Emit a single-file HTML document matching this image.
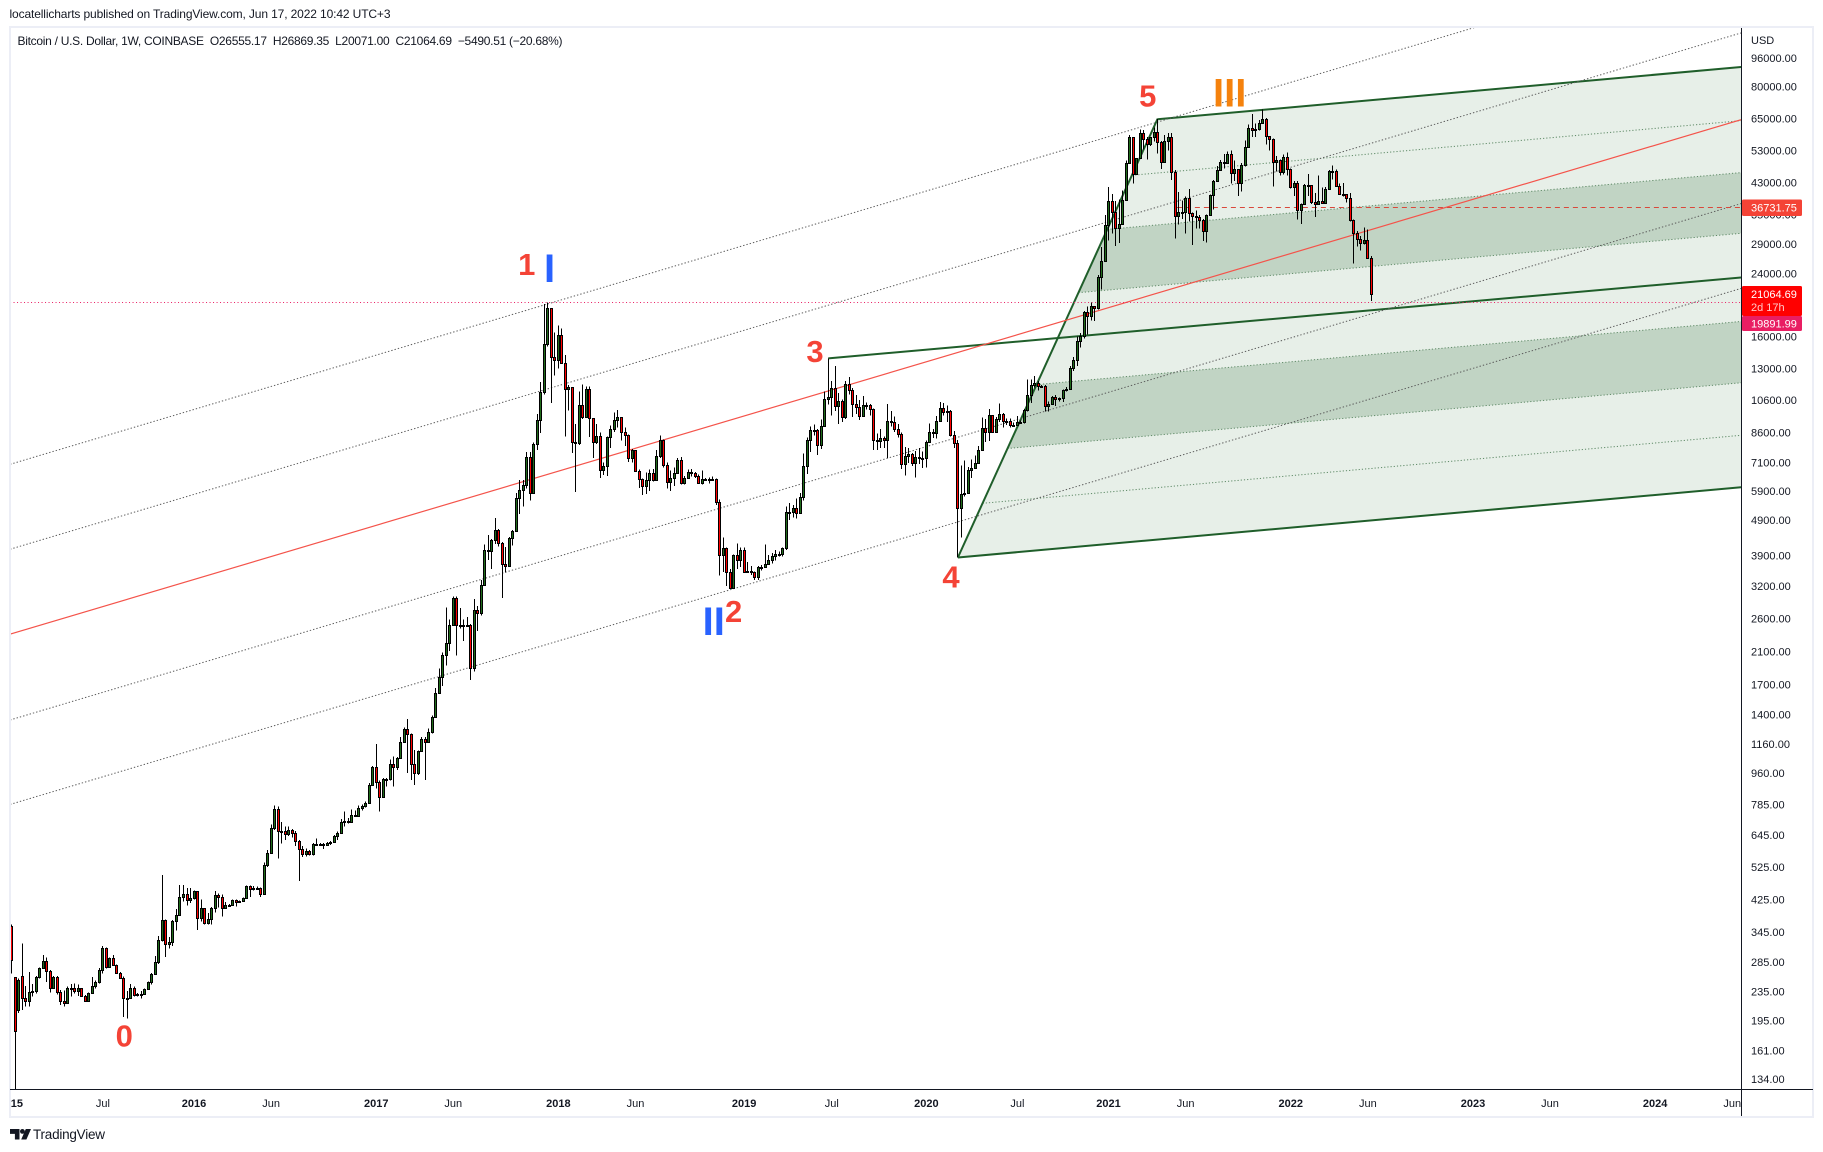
<!DOCTYPE html>
<html lang="en">
<head>
<meta charset="utf-8">
<title>Bitcoin / U.S. Dollar, 1W chart</title>
<style>
html,body{margin:0;padding:0;background:#fff;}
body{width:1823px;height:1152px;overflow:hidden;}
svg{display:block;font-family:"Liberation Sans",sans-serif;}
text{fill:#131722;}
</style>
</head>
<body>
<svg id="chart" xmlns="http://www.w3.org/2000/svg" width="1823" height="1152" viewBox="0 0 1823 1152">
  <defs>
    <clipPath id="plot-clip"><rect x="11" y="28" width="1730" height="1061"/></clipPath>
    <clipPath id="time-clip"><rect x="11" y="1090" width="1730" height="26"/></clipPath>
  </defs>
  <rect x="0" y="0" width="1823" height="1152" fill="#ffffff"/>
  <text x="9.5" y="18" font-size="12" textLength="381" lengthAdjust="spacing">locatellicharts published on TradingView.com, Jun 17, 2022 10:42 UTC+3</text>
  <rect x="10" y="27" width="1803" height="1090" fill="none" stroke="#eceef6" stroke-width="2"/>

  <g id="plot" clip-path="url(#plot-clip)">
    <g id="fork-layer"></g>
    <g id="channel-layer"></g>
    <g id="level-layer"></g>
    <g id="candle-layer"></g>
  </g>

  <text x="17.5" y="45" font-size="12" textLength="545" lengthAdjust="spacing" xml:space="preserve">Bitcoin / U.S. Dollar, 1W, COINBASE  O26555.17  H26869.35  L20071.00  C21064.69  −5490.51 (−20.68%)</text>

  <g font-size="31" font-weight="bold" text-anchor="middle">
    <text x="124.3" y="1046.5" style="fill:#f44336">0</text>
    <text x="526.7" y="275" style="fill:#f44336">1</text>
    <text x="733.6" y="622" style="fill:#f44336">2</text>
    <text x="815" y="362" style="fill:#f44336">3</text>
    <text x="951" y="587.5" style="fill:#f44336">4</text>
    <text x="1147.7" y="106.5" style="fill:#f44336">5</text>
    <text x="549.5" y="282" font-size="40" style="fill:#2962ff">I</text>
    <text x="713.8" y="635" font-size="40" style="fill:#2962ff">II</text>
    <text x="1229.7" y="106.5" font-size="40" style="fill:#f5820d">III</text>
  </g>

  <line x1="10" y1="1089.5" x2="1813" y2="1089.5" stroke="#131722" stroke-width="1"/>
  <line x1="1741.5" y1="28" x2="1741.5" y2="1116" stroke="#131722" stroke-width="1"/>
  <g id="time-axis" clip-path="url(#time-clip)"></g>
  <g id="price-axis"></g>
  <text x="1751" y="44" font-size="11">USD</text>

  <g>
    <rect x="1742" y="199.5" width="60" height="16.5" rx="1.5" fill="#f44336"/>
    <text x="1751" y="211.5" font-size="11" style="fill:#ffffff">36731.75</text>
  </g>
  <g>
    <rect x="1742" y="286" width="60" height="30" rx="1.5" fill="#ff0000"/>
    <text x="1751" y="298" font-size="11" style="fill:#ffffff">21064.69</text>
    <text x="1751" y="311" font-size="11" style="fill:#ffc9c9">2d 17h</text>
  </g>
  <g>
    <rect x="1742" y="316" width="60" height="15" rx="1.5" fill="#e91e63"/>
    <text x="1751" y="327.5" font-size="11" style="fill:#ffffff">19891.99</text>
  </g>

  <g>
    <path d="M10 1129h9.5v10.5h-4.6v-5.6H10z M25.8 1129h5.2l-4.6 10.5h-5.2z" fill="#131722"/>
    <circle cx="22.4" cy="1131.4" r="2.4" fill="#131722"/>
    <text x="33" y="1139" font-size="13.5" textLength="72" lengthAdjust="spacing">TradingView</text>
  </g>
</svg>

<script>
// ---- Chart data: weekly candles, index 0 is the week of 2015-01-05 ----
const firstWeek = '2015-01-05';
const closes = [
288,182,254,226,221,234,236,259,274,287,
268,241,259,235,222,219,241,241,236,240,
229,222,233,244,250,271,311,275,292,279,
266,257,226,226,241,230,231,232,239,250,
264,285,327,373,320,323,371,385,432,441,
423,430,449,377,402,365,376,404,438,432,
402,410,411,424,420,421,430,464,455,459,
458,440,530,575,675,760,660,660,650,665,
655,620,590,570,580,572,607,608,610,605,
612,618,640,655,700,705,702,735,730,765,
775,790,890,998,905,825,925,925,1020,1000,
1060,1176,1272,1233,1018,964,1110,1200,1175,1249,
1380,1605,1787,2055,2224,2500,2970,2500,2490,2480,
2490,1890,2743,2695,3215,4035,4020,4320,4610,4240,
3700,3650,4370,4570,5660,5960,6130,7355,5850,7980,
9350,11200,15180,19220,14000,13700,16100,13500,11390,11520,
8100,8050,10300,9500,11420,9460,8100,8400,6780,6960,
8340,8790,9350,9500,8640,8480,7310,7677,6720,6390,
6110,6330,6650,6330,7400,8190,7000,6260,6440,6650,
7230,6200,6440,6680,6620,6500,6200,6390,6400,6380,
6390,5500,3900,4080,3510,3170,3920,3800,4035,3500,
3530,3500,3400,3630,3620,3700,3784,3880,3950,3950,
4080,5170,5160,5280,5130,5680,6940,8187,8740,8730,
7930,8960,10700,10800,11470,10200,10570,9500,11800,11300,
10350,10150,9600,10300,10300,9990,8200,8150,8320,8220,
9250,9200,8800,8500,7050,7400,7500,7080,7330,7320,
7320,8100,8650,8560,9270,10060,9830,9880,8470,8030,
5310,5780,5850,6750,6870,7090,7680,8890,8650,9610,
8640,9420,9720,9270,9280,9040,9060,9240,9220,9930,
10980,11660,11830,11600,11640,10200,10350,10850,10690,10740,
11290,11400,13030,13750,15480,15980,18670,18200,19400,19150,
23420,26057,32800,38200,35600,32100,33000,38500,48900,57900,
45500,50400,59300,56900,55200,57700,59500,56000,49000,56200,
57700,46000,34700,35500,35700,39000,35400,34700,34500,33900,
31500,35000,39800,43600,46800,49000,48900,51700,45800,47000,
42800,48100,54200,61300,60300,60700,63000,65000,58000,57000,
49000,49700,46200,50700,47000,41800,42900,36000,37400,42300,
42300,38000,37500,38300,37700,41200,46500,46300,42200,40100,
40000,38900,33900,31200,29900,29100,29800,26555.17,21064.69
];
const highs = [
362,258,256,321,244,267,247,260,275,298,
293,270,260,260,238,237,243,247,248,246,
241,230,234,258,253,274,316,312,293,298,
280,267,259,236,247,243,233,236,240,251,
265,296,337,499,374,334,373,400,468,468,
458,458,451,450,425,403,390,405,449,443,
439,419,413,425,425,423,431,466,466,464,
463,460,540,585,690,780,775,700,682,680,
670,662,625,600,592,585,612,630,612,612,
616,620,645,660,715,750,720,760,755,780,
785,800,900,1005,1160,915,930,930,1050,1070,
1065,1210,1290,1360,1240,1115,1112,1210,1210,1282,
1390,1660,1885,2090,2790,2585,2990,2990,2780,2585,
2625,2510,2945,2815,3327,4180,4450,4340,4970,4620,
4260,4120,4390,4590,5840,6350,6350,7600,7600,8060,
9700,11900,19700,19891,19220,16400,17150,16800,14200,11700,
11550,9080,11200,11740,11560,11560,9460,9100,8600,7100,
8380,9020,9780,9940,9500,8900,8500,7750,7700,6780,
6400,6650,6780,6800,7680,8450,8230,7100,6750,6880,
7300,7350,6500,6790,6800,6680,6560,6750,6430,6450,
6480,6400,5600,4380,4100,3570,3930,4210,4100,4100,
3740,3650,3520,3650,3665,4190,3910,3960,4035,4000,
4110,5350,5460,5400,5620,5830,7515,8350,8940,9070,
8800,9350,11200,13880,12000,13200,11100,10650,12000,12300,
11450,10950,10600,10900,10450,10350,10050,8550,8800,8400,
10350,9900,9550,9100,8600,7850,7800,7540,7650,7800,
7620,8170,9110,8800,9560,10470,10400,10250,9950,8700,
8200,6960,7200,6900,7230,7430,7900,9480,9400,10030,
9650,9500,10370,9750,9420,9420,9180,9560,9310,10020,
12100,12100,12400,12000,11700,11700,10500,10900,10960,10800,
11350,11550,13200,14000,15950,16350,18800,19400,19900,19400,
23700,28450,34900,41800,40000,38200,38600,40900,49600,58400,
57500,50500,60500,60400,57700,57800,61300,64900,56200,58500,
59300,59300,46600,40500,38300,39300,41300,35500,36000,34900,
34000,35100,39900,43700,47900,49700,51800,52500,52900,49600,
47000,48800,56400,62500,67000,63000,64500,68800,65300,58000,
57200,51000,50000,51600,52200,47200,43500,43500,37600,42600,
45500,42200,40300,45000,41700,41800,46600,48000,46800,42800,
42900,40000,40200,33900,31500,30500,32200,31800,26869.35
];
const lows = [
264,125,205,209,214,214,228,232,256,273,
250,234,240,231,216,214,218,228,232,229,
227,221,221,232,240,248,264,273,274,278,
264,255,200,198,225,228,228,225,230,238,
246,263,281,325,294,310,315,349,385,420,
410,416,425,350,369,362,362,362,392,404,
382,400,408,408,407,418,419,429,433,451,
452,433,438,525,572,665,555,610,625,640,
635,600,480,560,562,565,565,603,600,590,
600,605,615,625,655,680,695,700,725,728,
755,770,790,885,870,750,820,880,915,880,
980,1055,1170,960,919,890,950,1100,919,1165,
1240,1370,1600,1685,1920,2107,2490,2045,2440,2250,
2460,1749,1850,2400,2650,3200,3784,3570,4200,4130,
2970,3500,3620,4160,4570,5100,5340,6000,5560,5850,
7700,8570,11000,15000,10410,12440,12990,13400,8400,9930,
7550,5870,7950,9400,9500,8365,7310,8000,6430,6540,
6500,7800,8650,8900,8190,7900,7120,7100,6700,6030,
5760,5800,5900,6280,6300,7300,6880,6000,5900,6100,
6600,6150,6150,6400,6480,6420,6170,6150,6360,6200,
6300,5400,3430,3510,3200,3150,3170,3570,3620,3490,
3480,3440,3330,3330,3540,3610,3680,3700,3780,3870,
3880,4040,4900,4980,4950,5100,5560,6600,7600,8450,
7450,7750,8950,10300,9600,9900,9100,9200,9400,11000,
9500,9700,9330,9600,10000,9600,7700,7700,7800,7800,
7300,8950,8650,8350,6800,6520,7080,6950,6440,7030,
6850,6880,8100,8300,8280,9200,9600,9200,8400,7800,
3850,4380,5700,5800,6420,6870,7060,7650,8100,8150,
8600,8640,9200,8890,9030,8900,8960,8980,9120,9120,
9850,10400,11500,11300,11500,9850,9850,10300,10200,10500,
10480,11200,11350,12800,13200,14900,15750,16200,17700,17650,
19000,21600,26057,29634,31000,28600,29200,33000,38500,48900,
42800,45400,50400,53200,50000,54500,56000,51900,47000,49000,
52900,43800,30000,32900,34000,31000,33500,28800,32000,32000,
29500,29300,35000,36200,43300,46400,47100,48900,42800,43500,
39500,40600,47800,54100,57800,57800,60100,62900,55000,52900,
42000,46200,45000,45300,45000,41400,39500,33900,33000,37400,
39500,37500,34500,37500,37500,37500,41100,43900,42000,39900,
39300,37800,33500,25600,28500,27800,28900,26400,20071
];
const firstOpen = 360;
const openGaps = {1:258, 2:209, 3:260, 4:226};

// ---- Axis tick data ----
const priceTicks = [96000,80000,65000,53000,43000,35000,29000,24000,16000,13000,10600,8600,7100,5900,4900,3900,3200,2600,2100,1700,1400,1160,960,785,645,525,425,345,285,235,195,161,134];
const timeTickDates = ['2015-01-05','2015-07-06','2016-01-04','2016-06-06','2017-01-02','2017-06-05','2018-01-01','2018-06-04','2019-01-07','2019-07-01','2020-01-06','2020-07-06','2021-01-04','2021-06-07','2022-01-03','2022-06-06','2023-01-02','2023-06-05','2024-01-01','2024-06-03'];
const timeTickLabels = ['2015','Jul','2016','Jun','2017','Jun','2018','Jun','2019','Jul','2020','Jul','2021','Jun','2022','Jun','2023','Jun','2024','Jun'];

// ---- Drawing tools on the chart, anchored in week index and price ----
const edgeWeeks = [-0.5, 493.5];
const medianPrices = [2350, 64530];
const channelLeftPrices = [7015, 4060, 1352, 785];
const channelRightPrices = [194900, 112800, 37600, 21770];
const forkWave3 = [233, 13880];
const forkWave4 = [270, 3850];
const forkWave5 = [327, 64900];
const forkRightPrices = [90600, 64119, 45900, 31050, 23360, 17600, 11860, 8455, 6050];
const resistanceLevel = 36731.75;
const resistanceStartWeek = 332.5;
const highLevel = 19891.99;

// ---- Axis functions ----
const PX_PER_WEEK = 3.504, X_ORIGIN = 11.8, Y_ORIGIN = 58, Y_SCALE = 155.3, Y_REF_PRICE = 96000;
function xOfWeek(w){ return X_ORIGIN + w * PX_PER_WEEK; }
function weekOfDate(d){ return (Date.parse(d) - Date.parse(firstWeek)) / (7 * 864e5); }
function yOfPrice(p){ return Y_ORIGIN + Y_SCALE * Math.log(Y_REF_PRICE / p); }

const NS = 'http://www.w3.org/2000/svg';
function svgEl(tag, parent, attrs){
  const el = document.createElementNS(NS, tag);
  for (const k in attrs) el.setAttribute(k, attrs[k]);
  parent.appendChild(el);
  return el;
}

// ---- Pitchfork ----
const forkLayer = document.getElementById('fork-layer');
(function drawFork(){
  const xR = xOfWeek(edgeWeeks[1]);
  const xa = xOfWeek(forkWave4[0]), ya = yOfPrice(forkWave4[1]);
  const xb = xOfWeek(forkWave5[0]), yb = yOfPrice(forkWave5[1]);
  const k = (xb - xa) / (ya - yb);
  const yBottomR = yOfPrice(forkRightPrices[forkRightPrices.length - 1]);
  const s = (ya - yBottomR) / (xR - xa);
  function leftPoint(price){
    const yR = yOfPrice(price);
    const y = (yR + s * (xR - xa - k * ya)) / (1 - s * k);
    return {x: xa + (ya - y) * k, y: y, yR: yR};
  }
  const pts = forkRightPrices.map(leftPoint);
  const poly = function(a, b){
    return [a.x, a.y, xR, a.yR, xR, b.yR, b.x, b.y].join(' ');
  };
  const light = svgEl('polygon', forkLayer, {points: poly(pts[0], pts[8]), fill: '#e7efe8'});
  
  
  const band1 = svgEl('polygon', forkLayer, {points: poly(pts[2], pts[3]), fill: '#c1d4c4'});
  
  
  const band2 = svgEl('polygon', forkLayer, {points: poly(pts[5], pts[6]), fill: '#c1d4c4'});
  
  
  [1, 2, 3, 5, 6, 7].forEach(function(i){
    const lvl = svgEl('line', forkLayer, {x1: pts[i].x, y1: pts[i].y, x2: xR, y2: pts[i].yR, stroke: '#5f8a67', 'stroke-width': 1, 'stroke-dasharray': '1.2 2'});
    
    
  });
  const sides = [
    [xa, ya, xb, yb],
    [pts[0].x, pts[0].y, xR, pts[0].yR],
    [pts[8].x, pts[8].y, xR, pts[8].yR],
    [xOfWeek(forkWave3[0]), yOfPrice(forkWave3[1]), xR, pts[4].yR]
  ];
  sides.forEach(function(c){
    const ln = svgEl('line', forkLayer, {x1: c[0], y1: c[1], x2: c[2], y2: c[3], stroke: '#1f5e2a', 'stroke-width': 2});
    
    
  });
})();

// ---- Parallel channel ----
const channelLayer = document.getElementById('channel-layer');
channelLeftPrices.forEach(function(p, i){
  const ln = svgEl('line', channelLayer, {
    x1: xOfWeek(edgeWeeks[0]), y1: yOfPrice(p),
    x2: xOfWeek(edgeWeeks[1]), y2: yOfPrice(channelRightPrices[i]),
    stroke: '#5c5c5c', 'stroke-width': 1, 'stroke-dasharray': '1.4 2'
  });
  
  
});
const medianLine = svgEl('line', channelLayer, {
  x1: xOfWeek(edgeWeeks[0]), y1: yOfPrice(medianPrices[0]),
  x2: xOfWeek(edgeWeeks[1]), y2: yOfPrice(medianPrices[1]),
  stroke: '#f4534a', 'stroke-width': 1.2
});



// ---- Horizontal levels ----
const levelLayer = document.getElementById('level-layer');
const highLine = svgEl('line', levelLayer, {
  x1: xOfWeek(edgeWeeks[0]), y1: Math.round(yOfPrice(highLevel)) + 0.5,
  x2: xOfWeek(edgeWeeks[1]), y2: Math.round(yOfPrice(highLevel)) + 0.5,
  stroke: '#e91e63', 'stroke-width': 1, 'stroke-dasharray': '1 2.5'
});


const resistLine = svgEl('line', levelLayer, {
  x1: xOfWeek(resistanceStartWeek), y1: Math.round(yOfPrice(resistanceLevel)) + 0.5,
  x2: xOfWeek(edgeWeeks[1]), y2: Math.round(yOfPrice(resistanceLevel)) + 0.5,
  stroke: '#d9483b', 'stroke-width': 1, 'stroke-dasharray': '5 4'
});



// ---- Candles ----
const candleLayer = document.getElementById('candle-layer');
closes.forEach(function(c, i){
  const o = (i in openGaps) ? openGaps[i] : (i ? closes[i - 1] : firstOpen);
  const cx = Math.round(xOfWeek(i) - 0.5) + 0.5;
  const up = c >= o;
  const wick = svgEl('line', candleLayer, {x1: cx, x2: cx, y1: yOfPrice(highs[i]), y2: yOfPrice(lows[i]), stroke: '#000', 'stroke-width': 1, 'shape-rendering': 'crispEdges'});
  
  
  const top = Math.round(yOfPrice(Math.max(o, c))) + 0.5;
  const bot = Math.round(yOfPrice(Math.min(o, c))) + 0.5;
  const body = svgEl('rect', candleLayer, {x: cx - 1, y: top, width: 2, height: Math.max(bot - top, 1), fill: up ? '#1f6b1a' : '#ff0000', stroke: '#000', 'stroke-width': 1, 'shape-rendering': 'crispEdges'});
  
  
});

// ---- Price axis ----
const priceAxis = document.getElementById('price-axis');
priceTicks.forEach(function(p){
  const t = svgEl('text', priceAxis, {x: 1751, y: yOfPrice(p) + 4, 'font-size': 11});
  
  
  t.textContent = p.toFixed(2);
});

// ---- Time axis ----
const timeAxis = document.getElementById('time-axis');
timeTickLabels.forEach(function(label, i){
  const isYear = /^\d{4}$/.test(label);
  const t = svgEl('text', timeAxis, {
    x: xOfWeek(weekOfDate(timeTickDates[i])) - (i === 0 ? 1 : 0),
    y: 1107, 'font-size': 11, 'text-anchor': 'middle', 'font-weight': isYear ? 'bold' : 'normal'
  });
  
  
  t.textContent = label;
});
</script>
</body>
</html>
